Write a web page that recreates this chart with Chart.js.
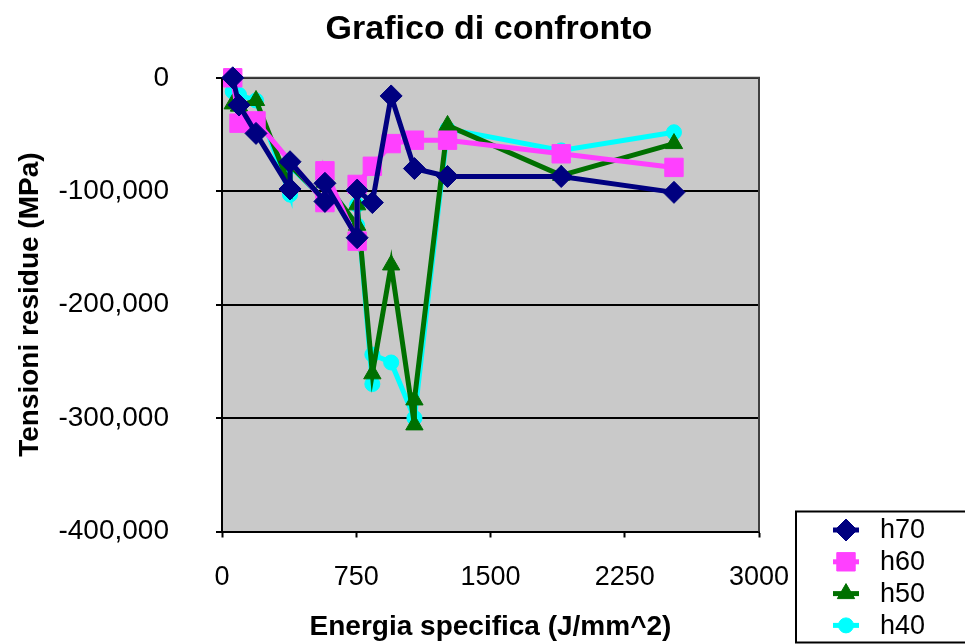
<!DOCTYPE html>
<html>
<head>
<meta charset="utf-8">
<title>Grafico di confronto</title>
<script src="https://cdn.jsdelivr.net/npm/chart.js@4.4.0/dist/chart.umd.min.js"></script>
<style>
  html, body { margin: 0; padding: 0; background: #fff; }
  #wrap { width: 965px; height: 644px; }
</style>
</head>
<body>
<div id="wrap"><canvas id="chart" width="965" height="644"></canvas></div>
<script>
// Valori (energia specifica J/mm^2, tensioni residue)
const seriesNames = ['h70', 'h60', 'h50', 'h40'];

const energyH70 = [60, 95, 190, 380, 380, 575, 575, 755, 755, 840, 945, 1075, 1260, 1895, 2525];
const stressH70 = [0, -24000, -49000, -98000, -74000, -109000, -93000, -141000, -99000, -110000, -16000, -80000, -87000, -87000, -101000];

const energyH60 = [60, 95, 190, 575, 575, 755, 755, 840, 945, 1075, 1260, 1895, 2525];
const stressH60 = [0, -40000, -38000, -110000, -82000, -144000, -94000, -78000, -58000, -55000, -55000, -67000, -79000];

const energyH50 = [60, 95, 190, 380, 380, 575, 575, 755, 755, 840, 945, 1075, 1075, 1260, 1895, 2525];
const stressH50 = [-23000, -25000, -20000, -96000, -77000, -108000, -92000, -130000, -112000, -261000, -165000, -306000, -284000, -42000, -86000, -58000];

const energyH40 = [60, 95, 190, 380, 380, 575, 575, 755, 755, 840, 840, 945, 1075, 1260, 1895, 2525];
const stressH40 = [-12000, -15000, -20000, -103000, -78000, -108000, -92000, -130000, -112000, -270000, -244000, -251000, -300000, -45000, -64000, -48000];

const xTicks = [0, 750, 1500, 2250, 3000];
const yTicks = [-400000, -300000, -200000, -100000, 0];

const FONT = '"Liberation Sans", Arial, sans-serif';
Chart.defaults.font.family = FONT;
Chart.defaults.color = '#000';

function toPoints(xs, ys) {
    return xs.map((x, i) => ({ x: x, y: ys[i] }));
}

function makeSeries(label, xs, ys, color, style, radius) {
    return {
        label: label,
        data: toPoints(xs, ys),
        showLine: true,
        clip: false,
        borderColor: color,
        backgroundColor: color,
        borderWidth: 5,
        pointStyle: style,
        pointRadius: radius,
        pointBorderWidth: 1,
        pointBorderColor: color,
        pointBackgroundColor: color,
        tension: 0
    };
}

// sfondo grigio dell'area del grafico
const plotBackground = {
    id: 'plotBackground',
    beforeDraw(chart) {
        const a = chart.chartArea;
        const ctx = chart.ctx;
        ctx.save();
        ctx.fillStyle = '#c9c9c9';
        ctx.fillRect(a.left, a.top, a.right - a.left, a.bottom - a.top);
        ctx.restore();
    },
    beforeDatasetsDraw(chart) {
        const a = chart.chartArea;
        const ctx = chart.ctx;
        ctx.save();
        ctx.strokeStyle = '#404040';
        ctx.lineWidth = 2;
        ctx.beginPath();
        ctx.moveTo(a.left, a.top);
        ctx.lineTo(a.right, a.top);
        ctx.lineTo(a.right, a.bottom);
        ctx.stroke();
        ctx.restore();
    }
};

// legenda con riquadro, in basso a destra
const boxLegend = {
    id: 'boxLegend',
    afterDraw(chart) {
        const ctx = chart.ctx;
        ctx.save();
        ctx.strokeStyle = '#000';
        ctx.lineWidth = 2;
        ctx.strokeRect(796, 511.5, 200, 131);
        chart.data.datasets.forEach((ds, i) => {
            const y = 530 + i * 31.8;
            ctx.strokeStyle = ds.borderColor;
            ctx.fillStyle = ds.backgroundColor;
            ctx.lineWidth = 5;
            ctx.beginPath();
            ctx.moveTo(833, y);
            ctx.lineTo(859, y);
            ctx.stroke();
            ctx.lineWidth = 1;
            Chart.helpers.drawPoint(ctx, {
                pointStyle: ds.pointStyle,
                radius: ds.pointRadius,
                rotation: 0,
                borderWidth: 1
            }, 846, y);
            ctx.fillStyle = '#000';
            ctx.font = '27px ' + FONT;
            ctx.textAlign = 'left';
            ctx.textBaseline = 'middle';
            ctx.fillText(ds.label, 880, y + 1);
        });
        ctx.restore();
    }
};

const ctx = document.getElementById('chart').getContext('2d');
new Chart(ctx, {
    type: 'scatter',
    data: {
        datasets: [
            makeSeries(seriesNames[0], energyH70, stressH70, '#000080', 'rectRot', 11),
            makeSeries(seriesNames[1], energyH60, stressH60, '#ff40ff', 'rect', 13),
            makeSeries(seriesNames[2], energyH50, stressH50, '#007000', 'triangle', 10),
            makeSeries(seriesNames[3], energyH40, stressH40, '#00ffff', 'circle', 7.5)
        ]
    },
    options: {
        responsive: false,
        animation: false,
        devicePixelRatio: 1,
        layout: { padding: { left: 13, right: 0, top: 0, bottom: 0 } },
        plugins: {
            legend: { display: false },
            tooltip: { enabled: false },
            title: {
                display: true,
                text: 'Grafico di confronto',
                color: '#000',
                font: { size: 34, weight: 'bold' },
                padding: { top: 9, bottom: 28 }
            }
        },
        scales: {
            x: {
                type: 'linear',
                min: 0,
                max: 3000,
                afterBuildTicks: s => { s.ticks = xTicks.map(v => ({ value: v })); },
                afterFit: s => { s.height = 112.5; },
                grid: { drawOnChartArea: false, drawTicks: true, tickLength: 6, tickColor: '#000', tickWidth: 2 },
                border: { display: true, color: '#000', width: 2 },
                ticks: { color: '#000', font: { size: 27 }, padding: 24, maxRotation: 0, callback: v => String(v) },
                title: {
                    display: true,
                    text: 'Energia specifica (J/mm^2)',
                    color: '#000',
                    font: { size: 28, weight: 'bold' },
                    padding: { top: 0, bottom: 0 }
                }
            },
            y: {
                type: 'linear',
                min: -400000,
                max: 0,
                afterBuildTicks: s => { s.ticks = yTicks.map(v => ({ value: v })); },
                afterFit: s => { s.width = 209; },
                grid: { color: '#000', lineWidth: 2, drawTicks: true, tickLength: 6, tickColor: '#000', tickWidth: 2 },
                border: { display: true, color: '#000', width: 2 },
                ticks: {
                    color: '#000',
                    font: { size: 28 },
                    padding: 47,
                    callback: v => v.toLocaleString('en-US')
                },
                title: {
                    display: true,
                    text: 'Tensioni residue (MPa)',
                    color: '#000',
                    font: { size: 28, weight: 'bold' },
                    padding: { top: 0, bottom: 0 }
                }
            },
            yRight: {
                position: 'right',
                display: true,
                afterFit: s => { s.width = 206; },
                ticks: { display: false },
                grid: { display: false, drawTicks: false },
                border: { display: false }
            }
        }
    },
    plugins: [plotBackground, boxLegend]
});
</script>
</body>
</html>
